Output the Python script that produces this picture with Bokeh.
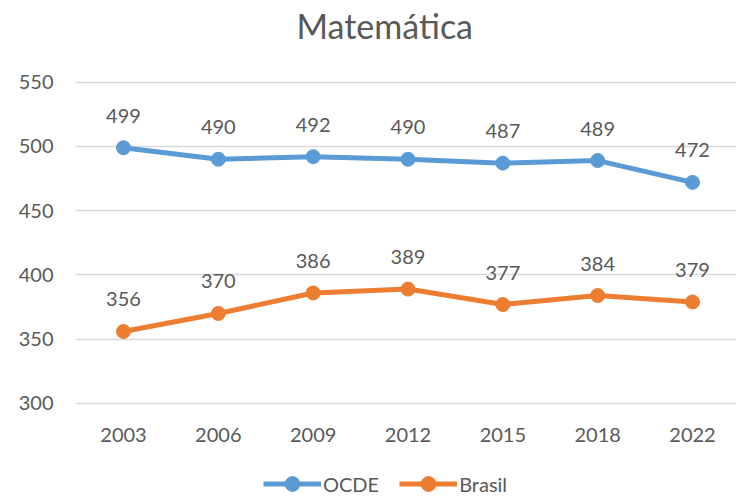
from bokeh.plotting import figure
from bokeh.models import ColumnDataSource, Legend, LegendItem, FixedTicker, Range1d, Title
from bokeh.core.properties import value
from bokeh.embed import file_html
from bokeh.resources import INLINE

years = ["2003", "2006", "2009", "2012", "2015", "2018", "2022"]
ocde = [499, 490, 492, 490, 487, 489, 472]
brasil = [356, 370, 386, 389, 377, 384, 379]
y_ticks = [300, 350, 400, 450, 500, 550]

FONT = "Lato"
TXT = "#595959"
BLUE = "#5B9BD5"
ORANGE = "#ED7D31"

idx = list(range(len(years)))
src_o = ColumnDataSource(dict(x=idx, y=ocde, t=[str(v) for v in ocde]))
src_b = ColumnDataSource(dict(x=idx, y=brasil, t=[str(v) for v in brasil]))
src_x = ColumnDataSource(dict(x=idx, y=[y_ticks[0]] * len(idx), t=years))

p = figure(width=736, height=496, output_backend="svg", toolbar_location=None,
           x_range=Range1d(-0.506, 6.464), y_range=Range1d(227.6, 551.3),
           x_axis_location=None,
           min_border_left=75, min_border_right=0, min_border_top=79, min_border_bottom=0)
p.outline_line_color = None
p.background_fill_color = "white"
p.border_fill_color = "white"

p.title = Title(text="Matemática", align="left", offset=221, text_font=FONT,
                text_font_size="34px", text_font_style="normal", text_color=TXT, standoff=5)
# empty spacer between the title and the plot area
p.add_layout(Title(text=" ", text_font_size="1px", standoff=29), "above")

# y axis
p.yaxis.ticker = FixedTicker(ticks=y_ticks)
ax = p.yaxis[0]
ax.axis_line_color = None
ax.major_tick_line_color = None
ax.minor_tick_line_color = None
ax.major_tick_out = 0
ax.major_tick_in = 0
ax.major_label_text_font = FONT
ax.major_label_text_font_size = "20px"
ax.major_label_text_color = TXT
ax.major_label_standoff = 22

p.xgrid.grid_line_color = None
p.ygrid.grid_line_color = "#D9D9D9"
p.ygrid.grid_line_width = 1.5

# category labels under the 300 gridline
p.text("x", "y", text="t", source=src_x, text_font=value(FONT), text_font_size="20px",
       text_color=TXT, text_align="center", text_baseline="alphabetic", y_offset=32)

lo = p.line("x", "y", source=src_o, line_color=BLUE, line_width=5)
so = p.scatter("x", "y", source=src_o, size=14, fill_color=BLUE, line_color=BLUE)
lb = p.line("x", "y", source=src_b, line_color=ORANGE, line_width=5)
sb = p.scatter("x", "y", source=src_b, size=14, fill_color=ORANGE, line_color=ORANGE)

for s in (src_o, src_b):
    p.text("x", "y", text="t", source=s, text_font=value(FONT), text_font_size="20px",
           text_color=TXT, text_align="center", text_baseline="alphabetic", y_offset=-32)

legend = Legend(items=[LegendItem(label="OCDE", renderers=[lo, so]),
                       LegendItem(label="Brasil", renderers=[lb, sb])],
                orientation="horizontal", location=(188, -6),
                label_text_font=FONT, label_text_font_size="20px", label_text_color=TXT,
                glyph_width=58, glyph_height=37, spacing=20, label_standoff=2,
                border_line_color=None, background_fill_alpha=0, padding=0, margin=0)
p.add_layout(legend, "center")

open("out.html", "w").write(file_html(p, INLINE))
